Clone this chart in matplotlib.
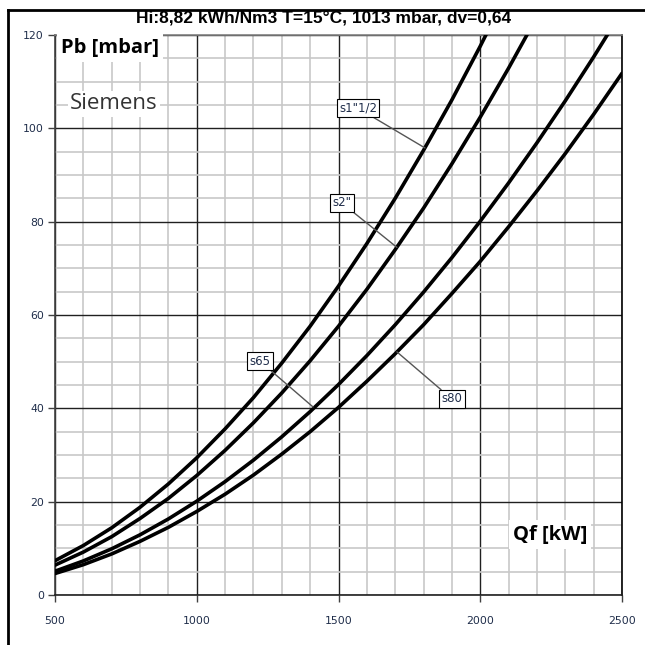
import matplotlib
matplotlib.use("Agg")
import matplotlib.pyplot as plt
from matplotlib.lines import Line2D
from matplotlib.ticker import MultipleLocator

# ---- data ----
q_kw = [500, 600, 700, 800, 900, 1000, 1100, 1200, 1300, 1400, 1500,
        1600, 1700, 1800, 1900, 2000, 2100, 2200, 2300, 2400, 2500]

s1_half = [7.35, 10.6, 14.4, 18.8, 23.8, 29.4, 35.6, 42.3, 49.7, 57.6, 66.2,
           75.3, 85.0, 95.3, 106.1, 117.6, 129.7]
s2 = [6.4, 9.2, 12.5, 16.4, 20.7, 25.6, 31.0, 36.9, 43.3, 50.2, 57.6,
      65.5, 74.0, 82.9, 92.4, 102.4, 112.9, 123.9]
s65 = [5.1, 7.3, 9.9, 12.9, 16.3, 20.1, 24.3, 28.9, 33.9, 39.3, 45.1,
       51.3, 57.9, 64.9, 72.3, 80.1, 88.3, 96.9, 105.9, 115.3, 125.1]
s80 = [4.6, 6.5, 8.8, 11.5, 14.5, 17.9, 21.6, 25.7, 30.2, 35.0, 40.2,
       45.8, 51.7, 57.9, 64.6, 71.5, 78.9, 86.6, 94.6, 103.0, 111.8]

series = [s1_half, s2, s65, s80]
labels = ['s1"1/2', 's2"', 's65', 's80']
# label box position and the point on the curve the leader points to
label_xy = [(1569, 104.3), (1512, 84.0), (1223, 50.1), (1900, 42.0)]
leader_xy = [(1805, 95.8), (1706, 74.5), (1410, 40.3), (1706, 52.1)]

x_ticks = [500, 1000, 1500, 2000, 2500]
y_ticks = [0, 20, 40, 60, 80, 100, 120]
title = "Hi:8,82 kWh/Nm3 T=15°C, 1013 mbar, dv=0,64"

# ---- figure ----
fig = plt.figure(figsize=(6.45, 6.45), dpi=100)
fig.patch.set_facecolor("white")
ax = fig.add_axes([55 / 645, 1 - 595 / 645, (622 - 55) / 645, (595 - 35) / 645])

ax.set_xlim(500, 2500)
ax.set_ylim(0, 120)
ax.xaxis.set_minor_locator(MultipleLocator(100))
ax.yaxis.set_minor_locator(MultipleLocator(5))
ax.set_xticks(x_ticks)
ax.set_yticks(y_ticks)

ax.grid(which="minor", color="#c8c8c8", linewidth=1.2, zorder=0)
ax.grid(which="major", color="#202020", linewidth=1.0, zorder=0.5)
ax.set_axisbelow(True)

ax.tick_params(which="minor", length=0)
ax.tick_params(which="major", length=5, width=1, color="#404040",
               labelsize=7.8, labelcolor="#1f2d4a")
ax.tick_params(axis="x", pad=10)
ax.tick_params(axis="y", pad=3)

for side, col in (("left", "#404040"), ("bottom", "#202020"),
                  ("top", "#808080"), ("right", "#000000")):
    ax.spines[side].set_color(col)
    ax.spines[side].set_linewidth(1.2)

for vals in series:
    ax.plot(q_kw[:len(vals)], vals, color="black", linewidth=2.6,
            solid_capstyle="round", zorder=3, clip_on=True)

for lab, lxy, pxy in zip(labels, label_xy, leader_xy):
    ax.annotate(lab, xy=pxy, xytext=lxy, ha="center", va="center",
                fontsize=8.5, family="DejaVu Sans", color="#1f2d4a",
                bbox=dict(boxstyle="square,pad=0.2", fc="white", ec="black", lw=0.8),
                arrowprops=dict(arrowstyle="-", color="#555555", lw=1.0,
                                shrinkA=0, shrinkB=0),
                zorder=5)

ax.text(0.010, 0.995, "Pb [mbar]", transform=ax.transAxes, ha="left", va="top",
        fontsize=14.5, fontweight="bold", family="Open Sans",
        bbox=dict(boxstyle="square,pad=0.2", fc="white", ec="none"), zorder=4)
ax.text(0.026, 0.877, "Siemens", transform=ax.transAxes, ha="left", va="center",
        fontsize=16, family="Open Sans", color="#333333",
        bbox=dict(boxstyle="square,pad=0.1", fc="white", ec="none"), zorder=4)
ax.text(0.807, 0.108, "Qf [kW]", transform=ax.transAxes, ha="left", va="center",
        fontsize=14.5, fontweight="bold", family="Open Sans",
        bbox=dict(boxstyle="square,pad=0.2", fc="white", ec="none"), zorder=4)

fig.text(324 / 645, 1 - 19 / 645, title, ha="center", va="center",
         fontsize=12.5, fontweight="bold", family="Liberation Sans")

# outer frame (left and top edges visible)
fig.add_artist(Line2D([8 / 645, 8 / 645], [0, 1 - 10 / 645], transform=fig.transFigure,
                      color="black", linewidth=2))
fig.add_artist(Line2D([8 / 645, 1], [1 - 10 / 645, 1 - 10 / 645], transform=fig.transFigure,
                      color="black", linewidth=2))

fig.savefig("out.png", dpi=100)
